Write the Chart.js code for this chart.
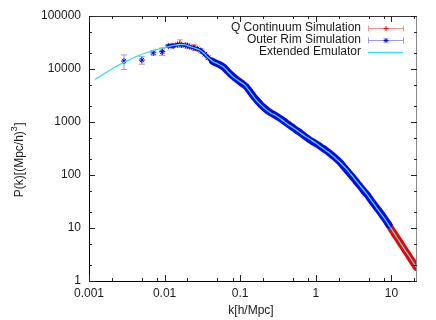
<!DOCTYPE html>
<html><head><meta charset="utf-8">
<script src="https://cdn.jsdelivr.net/npm/chart.js@4.4.1/dist/chart.umd.min.js"></script>
<style>html,body{margin:0;padding:0;background:#fff;}#wrap{width:436px;height:320px;position:relative;}</style>
</head><body><div id="wrap"><canvas id="c"></canvas></div>
<script>
// ---- data ----
const xTickValues = [0.001, 0.01, 0.1, 1, 10];
const xTickLabels = ['0.001', '0.01', '0.1', '1', '10'];
const yTickValues = [1, 10, 100, 1000, 10000, 100000];
const yTickLabels = ['1', '10', '100', '1000', '10000', '100000'];
const seriesNames = ['Q Continuum Simulation', 'Outer Rim Simulation', 'Extended Emulator'];
const xTitle = 'k[h/Mpc]';
const yTitleMain = 'P(k)[(Mpc/h)';
const yTitleSup = '3';
const yTitleEnd = ']';

// Extended Emulator curve
const emuK = [0.0012, 0.0016, 0.0022, 0.0029, 0.0037, 0.0047, 0.006, 0.0074, 0.0088, 0.0101, 0.012, 0.0136, 0.015, 0.0165, 0.018, 0.020, 0.0225, 0.025, 0.0292, 0.033, 0.037, 0.0439, 0.05, 0.0594, 0.068, 0.0805, 0.095, 0.115, 0.135, 0.156, 0.185, 0.222, 0.26, 0.302, 0.35, 0.42, 0.5, 0.6, 0.75, 0.88, 1.02, 1.2, 1.5, 1.8, 2.1, 2.6, 3.1, 3.8, 4.7, 5.8, 7.0, 8.0, 9.0, 10.5, 12, 14.2, 17, 21.3];
const emuP = [6360, 8200, 10800, 13300, 15800, 18300, 20700, 22800, 24300, 25600, 27000, 28000, 28700, 29000, 28700, 27600, 26000, 24800, 22800, 19800, 16800, 13700, 12600, 11000, 9100, 7130, 6000, 4970, 3700, 2800, 2150, 1700, 1450, 1300, 1120, 920, 780, 650, 520, 450, 393, 330, 262, 210, 172, 125, 92, 64, 44, 29, 20, 15.5, 12, 8.6, 6.4, 4.4, 3.0, 1.82];

// Outer Rim Simulation
const orK = [0.0029, 0.005, 0.0071, 0.0093, 0.0112, 0.013, 0.0148, 0.0168, 0.019, 0.0215, 0.024, 0.027, 0.030, 0.034, 0.038, 0.043, 0.048, 0.054, 0.06, 0.067, 0.075, 0.085, 0.095, 0.107, 0.12, 0.135, 0.15, 0.17, 0.19, 0.215, 0.24, 0.27, 0.3, 0.34, 0.38, 0.43, 0.48, 0.54, 0.6, 0.68, 0.76, 0.85, 0.95, 1.07, 1.2, 1.35, 1.5, 1.7, 1.9, 2.15, 2.4, 2.7, 3.0, 3.4, 3.8, 4.3, 4.8, 5.4, 6.0, 6.8, 7.6, 8.5, 9.3];
const orP = [14100, 14700, 20200, 21100, 27100, 27300, 28900, 28600, 27900, 26400, 25300, 24000, 22300, 19000, 16300, 14000, 12900, 12000, 10900, 9300, 7900, 6800, 6000, 5300, 4650, 3750, 3050, 2480, 2080, 1780, 1570, 1420, 1300, 1160, 1040, 910, 815, 720, 650, 570, 505, 450, 410, 370, 330, 295, 263, 227, 198, 166, 137, 113, 95, 76, 63, 50, 42, 33, 27, 21.5, 17.3, 13.7, 11.4];
const orErr = [4300, 2400, 2000, 3000, 1500, 1300, 1200, 1100, 1000, 900, 800, 700, 600, 450, 380, 300, 250, 220, 180, 140, 110, 90, 70, 60, 50, 35, 28, 20, 16, 12, 10, 8, 7, 6, 5, 4, 3, 3, 2, 2, 2, 1.5, 1.2, 1, 1, 0.8, 0.7, 0.6, 0.5, 0.4, 0.3, 0.3, 0.2, 0.2, 0.2, 0.1, 0.1, 0.1, 0.1, 0.1, 0.1, 0.1, 0.1];

// Q Continuum Simulation
const qcK = [0.0093, 0.0125, 0.0159, 0.02, 0.025, 0.031, 0.038, 0.046, 0.056, 0.07, 0.09, 0.12, 0.16, 0.22, 0.3, 0.42, 0.6, 0.85, 1.2, 1.7, 2.4, 3.4, 4.8, 6.8, 9.0, 10, 11, 12.2, 13.5, 15, 16.7, 18.5, 20.5, 21.5];
const qcP = [21500, 27500, 30500, 27600, 25500, 21800, 16400, 13500, 11800, 8700, 6400, 4650, 2750, 1720, 1300, 920, 650, 450, 330, 227, 137, 76, 41, 21.5, 12.1, 9.5, 7.7, 6.15, 4.93, 3.92, 3.1, 2.47, 1.98, 1.79];
const qcErr = [3500, 2500, 5000, 3000, 3000, 1800, 1200, 900, 600, 400, 250, 150, 80, 40, 25, 15, 9, 6, 4, 2.5, 1.5, 0.8, 0.4, 0.2, 0.1, 0.1, 0.1, 0.1, 0.1, 0.05, 0.05, 0.05, 0.05, 0.05];

// ---- styling ----
const BLUE = '#0a0ae6', RED = '#f00000', CYAN = '#3fdfe6';
const BLUE_ERR = '#9a9af0', RED_ERR = '#f49090';
const FONT = '"Liberation Sans", Arial, sans-serif';
const TXT = '#1a1a1a';

const pts = (K, P) => K.map((k, i) => ({x: k, y: P[i]}));

const decor = {
  id: 'decor',
  beforeDatasetsDraw(chart) {
    const ctx = chart.ctx, xs = chart.scales.x, ys = chart.scales.y;
    const bars = [[orK, orP, orErr, BLUE_ERR], [qcK, qcP, qcErr, RED_ERR]];
    ctx.save();
    ctx.lineWidth = 1;
    for (const [K, P, E, col] of bars) {
      ctx.strokeStyle = col;
      K.forEach((k, i) => {
        const x = xs.getPixelForValue(k);
        const y1 = ys.getPixelForValue(P[i] + E[i]);
        const y2 = ys.getPixelForValue(Math.max(P[i] - E[i], 1e-3));
        if (Math.abs(y2 - y1) < 2) return;
        ctx.beginPath();
        ctx.moveTo(x, y1); ctx.lineTo(x, y2);
        ctx.moveTo(x - 3, y1); ctx.lineTo(x + 3, y1);
        ctx.moveTo(x - 3, y2); ctx.lineTo(x + 3, y2);
        ctx.stroke();
      });
    }
    ctx.restore();
  },
  afterDraw(chart) {
    const ctx = chart.ctx, a = chart.chartArea, xs = chart.scales.x, ys = chart.scales.y;
    ctx.save();
    // frame
    ctx.lineWidth = 1;
    ctx.strokeStyle = '#000';
    ctx.beginPath();
    ctx.moveTo(a.left + 0.5, a.top); ctx.lineTo(a.left + 0.5, a.bottom + 0.5);
    ctx.lineTo(a.right, a.bottom + 0.5);
    ctx.stroke();
    ctx.strokeStyle = '#333';
    ctx.beginPath(); ctx.moveTo(a.left, a.top + 0.5); ctx.lineTo(a.right, a.top + 0.5); ctx.stroke();
    ctx.strokeStyle = '#8a8a8a';
    ctx.beginPath(); ctx.moveTo(a.right - 0.5, a.top); ctx.lineTo(a.right - 0.5, a.bottom + 1); ctx.stroke();
    // ticks (inward)
    const tickX = (v, len) => {
      const x = Math.round(xs.getPixelForValue(v)) + 0.5;
      if (x < a.left || x > a.right) return;
      ctx.beginPath();
      ctx.moveTo(x, a.bottom); ctx.lineTo(x, a.bottom - len);
      ctx.moveTo(x, a.top); ctx.lineTo(x, a.top + len);
      ctx.stroke();
    };
    const tickY = (v, len) => {
      const y = Math.round(ys.getPixelForValue(v)) + 0.5;
      if (y < a.top - 1 || y > a.bottom + 1) return;
      ctx.beginPath();
      ctx.moveTo(a.left, y); ctx.lineTo(a.left + len, y);
      ctx.moveTo(a.right, y); ctx.lineTo(a.right - len, y);
      ctx.stroke();
    };
    ctx.strokeStyle = '#222';
    xTickValues.forEach(v => { tickX(v, 6); [2, 5, 8].forEach(m => tickX(v * m, 3)); });
    yTickValues.forEach(v => { tickY(v, 6); [2, 5].forEach(m => tickY(v * m, 3)); });
    // titles
    ctx.fillStyle = TXT;
    ctx.font = '12px ' + FONT;
    ctx.textAlign = 'center'; ctx.textBaseline = 'middle';
    ctx.fillText(xTitle, 251, 311);
    ctx.save();
    ctx.translate(20, 160);
    ctx.rotate(-Math.PI / 2);
    const w1 = ctx.measureText(yTitleMain).width;
    ctx.font = '9px ' + FONT;
    const w2 = ctx.measureText(yTitleSup).width;
    ctx.font = '12px ' + FONT;
    const w3 = ctx.measureText(yTitleEnd).width;
    let sx = -(w1 + w2 + w3) / 2;
    ctx.textAlign = 'left';
    ctx.fillText(yTitleMain, sx, 0);
    ctx.font = '9px ' + FONT;
    ctx.fillText(yTitleSup, sx + w1, -5);
    ctx.font = '12px ' + FONT;
    ctx.fillText(yTitleEnd, sx + w1 + w2 + 0.5, 0);
    ctx.restore();
    // legend
    const rows = [
      {name: seriesNames[0], col: RED, ecol: RED_ERR, y: 28, kind: 'cross'},
      {name: seriesNames[1], col: BLUE, ecol: BLUE_ERR, y: 40, kind: 'star'},
      {name: seriesNames[2], col: CYAN, y: 52, kind: 'line'}
    ];
    ctx.font = '12px ' + FONT;
    ctx.textAlign = 'right'; ctx.textBaseline = 'middle';
    rows.forEach(r => {
      ctx.fillStyle = TXT;
      ctx.fillText(r.name, 361, r.y);
      const x0 = 368, x1 = 404, y = r.y + 0.5;
      ctx.lineWidth = 1;
      if (r.kind === 'line') {
        ctx.strokeStyle = r.col; ctx.lineWidth = 1.3;
        ctx.beginPath(); ctx.moveTo(x0, y); ctx.lineTo(x1 - 1, y); ctx.stroke();
      } else {
        ctx.strokeStyle = r.ecol;
        ctx.beginPath();
        ctx.moveTo(x0, y); ctx.lineTo(x1, y);
        ctx.moveTo(x0 + 0.5, y - 3); ctx.lineTo(x0 + 0.5, y + 3);
        ctx.moveTo(x1 - 0.5, y - 3); ctx.lineTo(x1 - 0.5, y + 3);
        ctx.stroke();
        ctx.strokeStyle = r.col;
        const cx = 386;
        ctx.beginPath();
        ctx.moveTo(cx - 2.5, y); ctx.lineTo(cx + 2.5, y);
        ctx.moveTo(cx, y - 2.5); ctx.lineTo(cx, y + 2.5);
        if (r.kind === 'star') {
          ctx.moveTo(cx - 2, y - 2); ctx.lineTo(cx + 2, y + 2);
          ctx.moveTo(cx - 2, y + 2); ctx.lineTo(cx + 2, y - 2);
        }
        ctx.stroke();
      }
    });
    ctx.restore();
  }
};

new Chart(document.getElementById('c'), {
  type: 'scatter',
  data: {
    datasets: [
      {
        label: seriesNames[2], data: pts(emuK, emuP), showLine: true,
        borderColor: CYAN, borderWidth: 1.3, pointRadius: 0, tension: 0.25, order: 0
      },
      {
        label: seriesNames[1], data: pts(orK, orP), showLine: true,
        borderColor: BLUE, borderWidth: 7, borderCapStyle: 'round', borderJoinStyle: 'round',
        segment: {
          borderColor: c => c.p0.parsed.x < 0.011 ? 'rgba(0,0,0,0)' : BLUE,
          borderWidth: c => c.p0.parsed.x < 0.04 ? 3.5 : 7
        },
        pointStyle: 'star', pointRadius: 3, pointBorderColor: BLUE, pointBackgroundColor: BLUE,
        pointBorderWidth: 1, tension: 0.2, order: 1
      },
      {
        label: seriesNames[0], data: pts(qcK, qcP), showLine: true,
        borderColor: RED, borderWidth: 7, borderCapStyle: 'round',
        segment: { borderColor: c => c.p0.parsed.x < 8.9 ? 'rgba(0,0,0,0)' : RED },
        pointStyle: 'cross', pointRadius: 3, pointBorderColor: RED, pointBorderWidth: 1,
        tension: 0.2, order: 2
      }
    ]
  },
  plugins: [decor],
  options: {
    responsive: true, maintainAspectRatio: false, animation: false, devicePixelRatio: 1,
    layout: { padding: { left: 0, right: 19, top: 16, bottom: 0 } },
    plugins: { legend: { display: false }, tooltip: { enabled: false } },
    scales: {
      x: {
        type: 'logarithmic', min: 0.001, max: 21.8,
        afterBuildTicks: s => { s.ticks = xTickValues.map(v => ({value: v})); },
        afterFit: s => { s.height = 39; },
        ticks: { callback: (v, i) => xTickLabels[i], autoSkip: false, maxRotation: 0, padding: 5,
                 color: TXT, font: { family: FONT, size: 12 } },
        grid: { display: false, drawTicks: false }, border: { display: false }
      },
      y: {
        type: 'logarithmic', min: 1, max: 100000,
        afterBuildTicks: s => { s.ticks = yTickValues.map(v => ({value: v})); },
        afterFit: s => { s.width = 89; },
        ticks: { callback: (v, i) => yTickLabels[i], autoSkip: false, padding: 8,
                 color: TXT, font: { family: FONT, size: 12 } },
        grid: { display: false, drawTicks: false }, border: { display: false }
      }
    }
  }
});
</script></body></html>
